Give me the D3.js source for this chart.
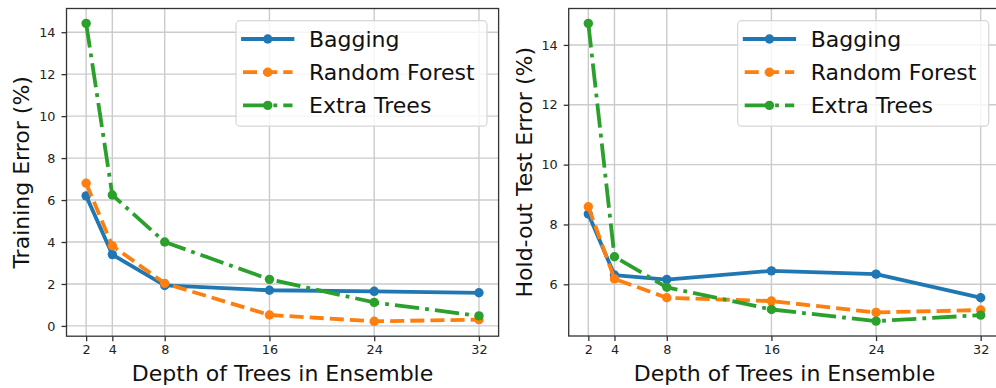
<!DOCTYPE html>
<html>
<head>
<meta charset="utf-8">
<script src="https://cdn.jsdelivr.net/npm/d3@7"></script>
<style>
  html, body { margin: 0; padding: 0; background: #fff; }
  svg { display: block; font-family: "DejaVu Sans", sans-serif; }
</style>
</head>
<body>
<svg id="chart" width="996" height="388"></svg>
<script>
// Tree depth used for each ensemble
const depths = [2, 4, 8, 16, 24, 32];

// Training error (%) per ensemble method
const trainBagging      = [6.2, 3.4, 1.93, 1.7, 1.65, 1.58];
const trainRandomForest = [6.8, 3.82, 2.03, 0.52, 0.22, 0.3];
const trainExtraTrees   = [14.42, 6.24, 4.0, 2.22, 1.12, 0.48];

// Hold-out test error (%) per ensemble method
const testBagging      = [8.35, 6.31, 6.16, 6.45, 6.34, 5.55];
const testRandomForest = [8.59, 6.18, 5.55, 5.44, 5.06, 5.14];
const testExtraTrees   = [14.72, 6.92, 5.9, 5.16, 4.77, 4.97];

const seriesNames = ["Bagging", "Random Forest", "Extra Trees"];
const trainTicks = [0, 2, 4, 6, 8, 10, 12, 14];
const testTicks = [6, 8, 10, 12, 14];
const xLabel = "Depth of Trees in Ensemble";

const colors = ["#1f77b4", "#ff7f0e", "#2ca02c"];
const LW = 3.8;
const dashes = [null, [3.7 * LW, 1.6 * LW], [6.4 * LW, 1.6 * LW, 1 * LW, 1.6 * LW]];

const svg = d3.select("#chart");

function panel(opts) {
  const { x0, x1, y0, y1, series, yTicks, yLabel, yLabelX } = opts;
  const g = svg.append("g");

  const all = series.flat();
  const lo = d3.min(all), hi = d3.max(all);
  const pad = 0.05 * (hi - lo);
  const xPad = 0.05 * (d3.max(depths) - d3.min(depths));

  const x = d3.scaleLinear()
    .domain([d3.min(depths) - xPad, d3.max(depths) + xPad])
    .range([x0, x1]);
  const y = d3.scaleLinear().domain([lo - pad, hi + pad]).range([y1, y0]);

  // grid lines
  g.append("g").selectAll("line").data(depths).join("line")
    .attr("x1", d => x(d)).attr("x2", d => x(d))
    .attr("y1", y0).attr("y2", y1)
    .attr("stroke", "#cbcbcb").attr("stroke-width", 1.4);
  g.append("g").selectAll("line").data(yTicks).join("line")
    .attr("x1", x0).attr("x2", x1)
    .attr("y1", d => y(d)).attr("y2", d => y(d))
    .attr("stroke", "#cbcbcb").attr("stroke-width", 1.4);

  // axes
  const xAxis = d3.axisBottom(x).tickValues(depths).tickSize(5).tickPadding(4);
  const yAxis = d3.axisLeft(y).tickValues(yTicks).tickSize(5).tickPadding(6);
  const gx = g.append("g").attr("transform", `translate(0,${y1})`).call(xAxis);
  const gy = g.append("g").attr("transform", `translate(${x0},0)`).call(yAxis);
  [gx, gy].forEach(a => {
    a.select(".domain").remove();
    a.selectAll(".tick line").attr("stroke", "#333").attr("stroke-width", 1.3);
    a.selectAll(".tick text").attr("fill", "#222")
      .style("font-family", "DejaVu Sans").style("font-size", "12.8px");
  });

  // series lines and markers
  const line = d3.line().x((d, i) => x(depths[i])).y(d => y(d));
  const clipId = "clip" + Math.round(x0);
  svg.append("defs").append("clipPath").attr("id", clipId)
    .append("rect").attr("x", x0).attr("y", y0).attr("width", x1 - x0).attr("height", y1 - y0);
  const plot = g.append("g").attr("clip-path", `url(#${clipId})`);
  series.forEach((vals, k) => {
    const s = plot.append("g");
    s.append("path").datum(vals)
      .attr("d", line).attr("fill", "none")
      .attr("stroke", colors[k]).attr("stroke-width", LW)
      .attr("stroke-linejoin", "round")
      .attr("stroke-linecap", dashes[k] ? "butt" : "square")
      .attr("stroke-dasharray", dashes[k] ? dashes[k].join(",") : null);
    s.selectAll("circle").data(vals).join("circle")
      .attr("cx", (d, i) => x(depths[i])).attr("cy", d => y(d))
      .attr("r", 4.7).attr("fill", colors[k]);
  });

  // frame
  g.append("rect").attr("x", x0).attr("y", y0)
    .attr("width", x1 - x0).attr("height", y1 - y0)
    .attr("fill", "none").attr("stroke", "#333").attr("stroke-width", 1.3);

  // axis labels
  g.append("text")
    .attr("x", (x0 + x1) / 2).attr("y", 381)
    .attr("text-anchor", "middle").attr("fill", "#111")
    .style("font-size", "22px").text(xLabel);
  g.append("text")
    .attr("transform", `translate(${yLabelX},${(y0 + y1) / 2}) rotate(-90)`)
    .attr("text-anchor", "middle").attr("fill", "#111")
    .style("font-size", "22px").text(yLabel);

  // legend
  const lx = opts.legendX, ly = 20.7, lw = 251, lh = 105.5;
  const lg = g.append("g");
  lg.append("rect").attr("x", lx).attr("y", ly).attr("width", lw).attr("height", lh)
    .attr("rx", 4).attr("fill", "#fff").attr("fill-opacity", 0.8)
    .attr("stroke", "#d6d6d6").attr("stroke-width", 1.2);
  seriesNames.forEach((name, k) => {
    const cy = 39 + k * 33.2;
    const hx0 = lx + 7, hx1 = lx + 56.5;
    lg.append("line").attr("x1", hx0).attr("x2", hx1).attr("y1", cy).attr("y2", cy)
      .attr("stroke", colors[k]).attr("stroke-width", LW)
      .attr("stroke-linecap", dashes[k] ? "butt" : "square")
      .attr("stroke-dasharray", dashes[k] ? dashes[k].join(",") : null);
    lg.append("circle").attr("cx", (hx0 + hx1) / 2).attr("cy", cy).attr("r", 4.7)
      .attr("fill", colors[k]);
    lg.append("text").attr("x", lx + 73).attr("y", cy + 7.8)
      .attr("fill", "#111").style("font-size", "22px").text(name);
  });
}

panel({
  x0: 66.5, x1: 498.6, y0: 8.5, y1: 336.2,
  series: [trainBagging, trainRandomForest, trainExtraTrees],
  yTicks: trainTicks, yLabel: "Training Error (%)", yLabelX: 28.5,
  legendX: 236
});

panel({
  x0: 568.7, x1: 1000.3, y0: 8.5, y1: 336,
  series: [testBagging, testRandomForest, testExtraTrees],
  yTicks: testTicks, yLabel: "Hold-out Test Error (%)", yLabelX: 531.5,
  legendX: 737.7
});
</script>
</body>
</html>
